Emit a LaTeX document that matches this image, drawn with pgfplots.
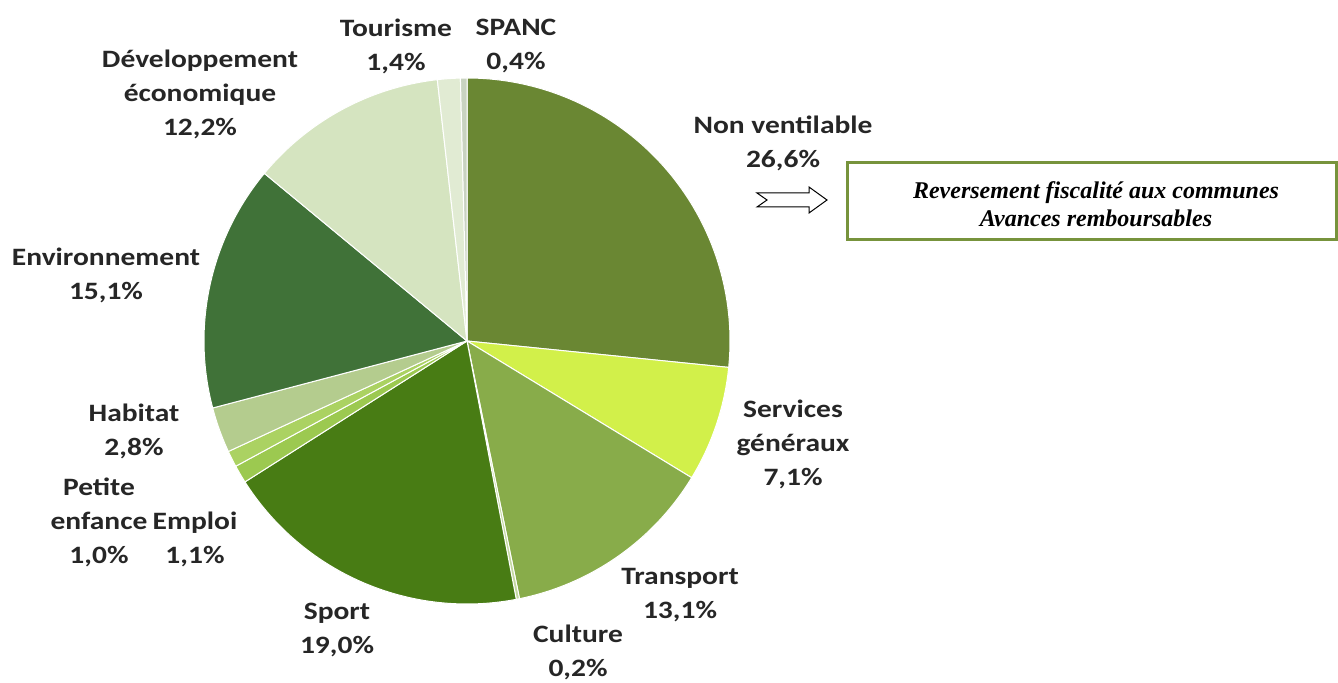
\documentclass[border=0pt]{standalone}
\usepackage{pgfplots}
\pgfplotsset{compat=1.18}
\usepackage{fontspec}
\setmainfont{Carlito}[FakeStretch=1.18]
\newfontfamily\boxfont{Liberation Serif}
\definecolor{cNon}{HTML}{6A8733}
\definecolor{cServ}{HTML}{D2F04A}
\definecolor{cTrans}{HTML}{88AC4A}
\definecolor{cCult}{HTML}{C3D8A0}
\definecolor{cSport}{HTML}{487C14}
\definecolor{cEmpl}{HTML}{9CC950}
\definecolor{cPetite}{HTML}{ABD262}
\definecolor{cHab}{HTML}{B4CC8E}
\definecolor{cEnv}{HTML}{407238}
\definecolor{cDev}{HTML}{D5E4C0}
\definecolor{cTour}{HTML}{E1EBD3}
\definecolor{cSpanc}{HTML}{C9D3C1}
\definecolor{boxgreen}{HTML}{77933C}
\definecolor{txt}{HTML}{262626}
\def\cx{467}
\def\cy{340}
\def\R{263}
\def\aStart{90}
\newcommand\slice[2]{%
  \pgfmathsetmacro\aEnd{\aStart-3.6*#1}%
  \edef\temp{\noexpand\addplot[fill=#2, draw=white, line width=1pt, domain=\aEnd:\aStart, samples=80, variable=\noexpand\t]
    ({\cx+\R*cos(\noexpand\t)},{\cy+\R*sin(\noexpand\t)}) -- (axis cs:\cx,\cy) -- cycle;}%
  \temp
  \global\let\aStart\aEnd}
\newcommand\lbl{\fontsize{25}{34}\selectfont\bfseries\color{txt}}
\begin{document}
\begin{tikzpicture}
\begin{axis}[
  width=1338pt, height=681pt, scale only axis,
  xmin=0, xmax=1338, ymin=0, ymax=681,
  hide axis, clip=false,
]
\path (axis cs:0,0) rectangle (axis cs:1338,681);
% percentages, clockwise from the top
\slice{26.6}{cNon}
\slice{7.1}{cServ}
\slice{13.1}{cTrans}
\slice{0.2}{cCult}
\slice{19.0}{cSport}
\slice{1.1}{cEmpl}
\slice{1.0}{cPetite}
\slice{2.8}{cHab}
\slice{15.1}{cEnv}
\slice{12.2}{cDev}
\slice{1.4}{cTour}
\slice{0.4}{cSpanc}
% labels
\node[align=center, font=\lbl] at (axis cs:396,635) {Tourisme\\1,4\%};
\node[align=center, font=\lbl] at (axis cs:516,635) {SPANC\\0,4\%};
\node[align=center, font=\lbl] at (axis cs:200,587) {Développement\\économique\\12,2\%};
\node[align=center, font=\lbl] at (axis cs:783,538) {Non ventilable\\26,6\%};
\node[align=center, font=\lbl] at (axis cs:106,406) {Environnement\\15,1\%};
\node[align=center, font=\lbl] at (axis cs:793,237) {Services\\généraux\\7,1\%};
\node[align=center, font=\lbl] at (axis cs:134,250) {Habitat\\2,8\%};
\node[align=center, font=\lbl] at (axis cs:99,159) {Petite\\enfance\\1,0\%};
\node[align=center, font=\lbl] at (axis cs:195,142) {Emploi\\1,1\%};
\node[align=center, font=\lbl] at (axis cs:337,51) {Sport\\19,0\%};
\node[align=center, font=\lbl] at (axis cs:578,29) {Culture\\0,2\%};
\node[align=center, font=\lbl] at (axis cs:680,86) {Transport\\13,1\%};
% arrow
\draw[black, line width=1pt, fill=white]
  (axis cs:757,488) -- (axis cs:809,488) -- (axis cs:809,494) -- (axis cs:827,481)
  -- (axis cs:809,468) -- (axis cs:809,474) -- (axis cs:757,474) -- (axis cs:767,481) -- cycle;
% box
\draw[boxgreen, line width=3pt] (axis cs:847,518) rectangle (axis cs:1336,441);
\node[align=center, font=\boxfont\fontsize{24}{28}\selectfont\bfseries\itshape] at (axis cs:1096,477)
  {Reversement fiscalité aux communes\\Avances remboursables};
\end{axis}
\end{tikzpicture}
\end{document}
